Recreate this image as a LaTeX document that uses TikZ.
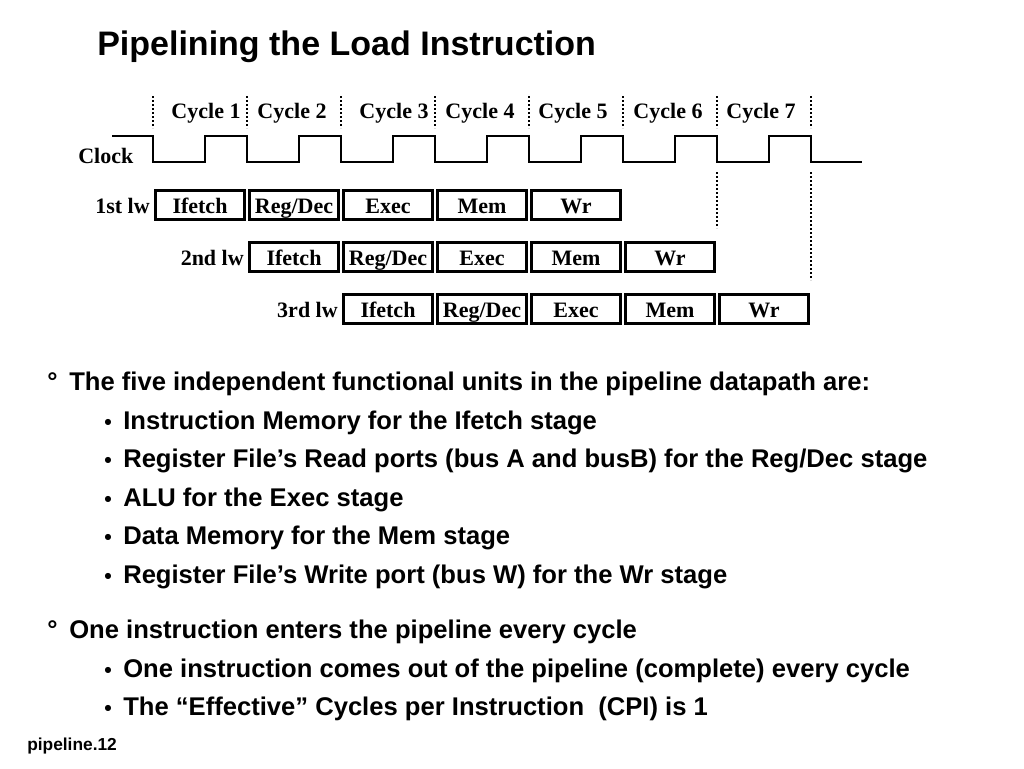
\documentclass[tikz,border=0pt]{standalone}
\usepackage{fontspec}
\setmainfont{Liberation Sans}
\newfontfamily\timesfont{Liberation Serif}
\usetikzlibrary{positioning}
\tikzset{
    stagebox/.style={draw, line width=2.3pt, minimum width=67pt, minimum height=21.5pt,
        inner sep=0pt, text height=13pt, text depth=0pt,
        font=\timesfont\bfseries\fontsize{16.5}{18}\selectfont},
    rowlabel/.style={anchor=east, inner sep=0pt, text height=13pt, text depth=0pt,
        font=\timesfont\bfseries\fontsize{16.5}{18}\selectfont},
    cyclelabel/.style={inner sep=0pt, font=\timesfont\bfseries\fontsize{16.5}{18}\selectfont},
    clockline/.style={line width=1.9pt},
    edgetick/.style={line width=1.6pt, dash pattern=on 1.6pt off 1.4pt},
    slidetext/.style={anchor=base west, inner sep=0pt, font=\bfseries\fontsize{19.2}{22}\selectfont},
    dotmark/.style={anchor=base west, inner sep=0pt, font=\bfseries\fontsize{16}{22}\selectfont},
}
\begin{document}
\begin{tikzpicture}[x=0.75pt, y=-0.75pt]
    \useasboundingbox (0,0) rectangle (1024,768);
    \node[anchor=base west, inner sep=0pt, font=\bfseries\fontsize{25.5}{30}\selectfont]
        (title) at (97,55) {Pipelining the Load Instruction};
    % clock and cycle boundaries
    \node[cyclelabel, anchor=west] (clock) at (78,156) {Clock};
    \draw[clockline] (112,136) \foreach \k in {0,...,6} {
        -- ({153+94*\k},136) -- ({153+94*\k},162) -- ({205+94*\k},162) -- ({205+94*\k},136) }
        -- (811,136) -- (811,162) -- (862,162);
    \foreach \k in {0,...,7}
        \draw[edgetick] ({153+94*\k},96) -- ({153+94*\k},128);
    \draw[edgetick] (717,172) -- (717,228);
    \draw[edgetick] (811,172) -- (811,280);
    \foreach \x/\n in {206/1, 292/2, 394/3, 480/4, 573/5, 668/6, 761/7}
        \node[cyclelabel] (cyc\n) at (\x,113) {Cycle \n};
    % the three loads
    \foreach \lbl [count=\r from 0] in {1st lw, 2nd lw, 3rd lw} {
        \node[rowlabel] (lw\r) at ({150+94*\r},{205+52*\r}) {\lbl};
        \foreach \stg [count=\s from 0] in {Ifetch, Reg/Dec, Exec, Mem, Wr}
            \node[stagebox] (st\r\s) at ({200+94*(\r+\s)},{205+52*\r}) {\stg};
    }
    % bullets
    \node[slidetext] (b1) at (47,390) {°};
    \node[slidetext] (t1) at (69,390) {The five independent functional units in the pipeline datapath are:};
    \foreach \y/\txt [count=\i] in {429/{Instruction Memory for the Ifetch stage},
        467/{Register File’s Read ports (bus A and busB) for the Reg/Dec stage},
        506/{ALU for the Exec stage},
        544/{Data Memory for the Mem stage},
        583/{Register File’s Write port (bus W) for the Wr stage}} {
        \node[dotmark] (d\i) at (104,\y) {•};
        \node[slidetext] (u\i) at (123,\y) {\txt};
    }
    \node[slidetext] (b2) at (47,638) {°};
    \node[slidetext] (t2) at (69,638) {One instruction enters the pipeline every cycle};
    \node[dotmark] (d6) at (104,677) {•};
    \node[slidetext] (u6) at (123,677) {One instruction comes out of the pipeline (complete) every cycle};
    \node[dotmark] (d7) at (104,715) {•};
    \node[slidetext] (u7) at (123,715) {The “Effective” Cycles per Instruction~ (CPI) is 1};
    \node[anchor=base west, inner sep=0pt, font=\bfseries\fontsize{13}{15}\selectfont]
        (foot) at (27,750) {pipeline.12};
\end{tikzpicture}
\end{document}
